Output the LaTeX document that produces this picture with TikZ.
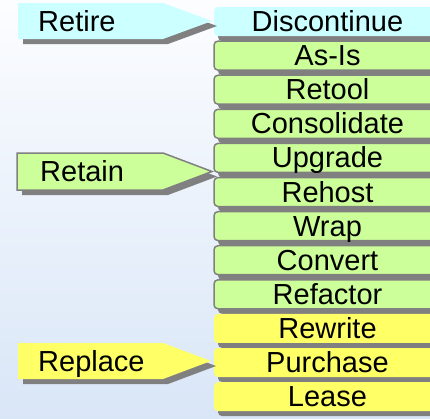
\documentclass[tikz,border=0pt]{standalone}
\usepackage{fontspec}
\setmainfont{Liberation Sans}
\usetikzlibrary{shadows}
\definecolor{cyanfill}{HTML}{CCFFFF}
\definecolor{greenfill}{HTML}{CCFF99}
\definecolor{yellowfill}{HTML}{FFFF66}
\definecolor{shgray}{HTML}{808080}
\definecolor{bgtop}{HTML}{FCFDFF}
\definecolor{bgbot}{HTML}{D9E6F7}
\tikzset{
  rowbox/.style={rectangle, rounded corners=4pt, minimum width=227pt, minimum height=29pt,
    inner sep=0pt, text height=20pt, text depth=0pt, font=\fontsize{29}{29}\selectfont,
    general shadow={fill=shgray, shadow xshift=4pt, shadow yshift=-5pt}},
  cyanbox/.style={rowbox, fill=cyanfill},
  greenbox/.style={rowbox, fill=greenfill, draw=shgray, line width=1.5pt},
  yellowbox/.style={rowbox, fill=yellowfill},
  lbl/.style={anchor=base west, inner sep=0pt, font=\fontsize{29}{29}\selectfont},
  shadowshape/.style={fill=shgray},
}
\begin{document}
\begin{tikzpicture}[x=1pt,y=-1pt]
\useasboundingbox (0,0) rectangle (430,418);
\clip (0,0) rectangle (430,418);
\shade[top color=bgtop, bottom color=bgbot] (0,0) rectangle (430,418);

% right column boxes
\node[cyanbox]   (b1)  at (327.5, 21.5) {Discontinue};
\node[greenbox]  (b2)  at (327.5, 55.6) {As-Is};
\node[greenbox]  (b3)  at (327.5, 89.7) {Retool};
\node[greenbox]  (b4)  at (327.5,123.8) {Consolidate};
\node[greenbox]  (b5)  at (327.5,157.9) {Upgrade};
\node[greenbox]  (b6)  at (327.5,192.0) {Rehost};
\node[greenbox]  (b7)  at (327.5,226.1) {Wrap};
\node[greenbox]  (b8)  at (327.5,260.2) {Convert};
\node[greenbox]  (b9)  at (327.5,294.3) {Refactor};
\node[yellowbox] (b10) at (327.5,328.4) {Rewrite};
\node[yellowbox] (b11) at (327.5,362.5) {Purchase};
\node[yellowbox] (b12) at (327.5,396.6) {Lease};

% Retire arrow
\fill[shadowshape, shift={(5,5)}] (18,3) -- (163,3) -- (212,21) -- (163,39) -- (18,39) -- cycle;
\fill[cyanfill] (18,3) -- (163,3) -- (212,21) -- (163,39) -- (18,39) -- cycle;
\node[lbl] (retire) at (38,31) {Retire};

% Retain arrow
\fill[shadowshape, shift={(5,5)}] (17,153) -- (163,153) -- (212,171.5) -- (163,190) -- (17,190) -- cycle;
\draw[fill=greenfill, draw=shgray, line width=1.5pt] (17,153) -- (163,153) -- (212,171.5) -- (163,190) -- (17,190) -- cycle;
\node[lbl] (retain) at (40,181.5) {Retain};

% Replace arrow
\fill[shadowshape, shift={(5,5)}] (18,343) -- (163,343) -- (211,361) -- (163,379) -- (18,379) -- cycle;
\fill[yellowfill] (18,343) -- (163,343) -- (211,361) -- (163,379) -- (18,379) -- cycle;
\node[lbl] (replace) at (38,371) {Replace};
\end{tikzpicture}
\end{document}
